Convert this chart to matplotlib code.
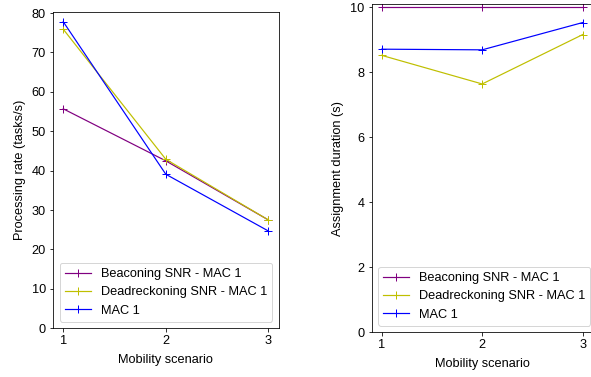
import matplotlib
matplotlib.use('Agg')
import matplotlib.pyplot as plt

plt.rcParams['font.family'] = ['Liberation Sans', 'DejaVu Sans']
plt.rcParams['font.size'] = 12.8

scenarios = [1, 2, 3]
labels = ['Beaconing SNR - MAC 1', 'Deadreckoning SNR - MAC 1', 'MAC 1']
colors = ['purple', 'y', 'b']

# processing rate (tasks/s)
rate_beacon = [55.7, 42.5, 27.5]
rate_dead = [75.9, 42.9, 27.5]
rate_mac = [77.8, 39.1, 24.7]

# assignment duration (s)
dur_beacon = [10.0, 10.0, 10.0]
dur_dead = [8.52, 7.64, 9.16]
dur_mac = [8.71, 8.69, 9.53]

W, H = 591, 377
fig = plt.figure(figsize=(W / 72, H / 72), dpi=72)

# axes placed in pixel coords: left, top, right, bottom
def px_axes(l, t, r, b):
    return fig.add_axes([l / W, 1 - b / H, (r - l) / W, (b - t) / H])

ax1 = px_axes(53, 12.3, 278.6, 328.3)
ax2 = px_axes(371.6, 4, 592.8, 332.3)

for ys, lab, c in zip([rate_beacon, rate_dead, rate_mac], labels, colors):
    ax1.plot(scenarios, ys, marker='+', color=c, label=lab, lw=1.2, ms=8)
for ys, lab, c in zip([dur_beacon, dur_dead, dur_mac], labels, colors):
    ax2.plot(scenarios, ys, marker='+', color=c, label=lab, lw=1.2, ms=8)

ax1.set_ylim(0, 80.2)
ax1.set_xticks(scenarios)
ax1.set_xlabel('Mobility scenario', labelpad=7)
ax1.set_ylabel('Processing rate (tasks/s)', labelpad=6)
ax1.legend(loc='lower right')

ax2.set_ylim(0, 10.1)
ax2.set_xticks(scenarios)
ax2.set_xlabel('Mobility scenario', labelpad=7)
ax2.set_ylabel('Assignment duration (s)', labelpad=6)
ax2.legend(loc='lower left')

fig.savefig('out.png', dpi=72)
